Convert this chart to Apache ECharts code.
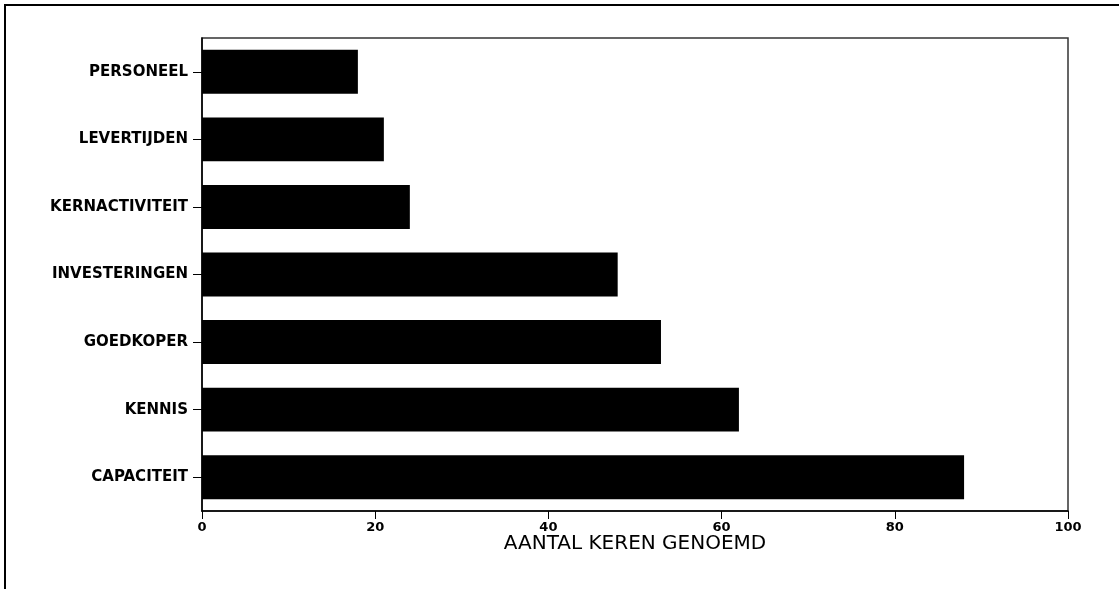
<!DOCTYPE html>
<html><head><meta charset="utf-8">
<script src="https://cdn.jsdelivr.net/npm/echarts@6/dist/echarts.min.js"></script>
<style>html,body{margin:0;padding:0;background:#fff}#c{width:1119px;height:589px}</style>
</head><body><div id="c"></div>
<script>
const categories = ["PERSONEEL","LEVERTIJDEN","KERNACTIVITEIT","INVESTERINGEN","GOEDKOPER","KENNIS","CAPACITEIT"];
const values = [18, 21, 24, 48, 53, 62, 88];
const xTicks = [0, 20, 40, 60, 80, 100];
const xTitle = "AANTAL KEREN GENOEMD";

const chart = echarts.init(document.getElementById('c'));
chart.setOption({
  animation: false,
  backgroundColor: '#fff',
  grid: {left: 202, right: 51, top: 38, bottom: 78, show: true, borderColor: '#333', borderWidth: 1.5, containLabel: false},
  graphic: [
    {type: 'line', shape: {x1: 4, y1: 5, x2: 1119, y2: 5}, style: {stroke: '#000', lineWidth: 2}},
    {type: 'line', shape: {x1: 5, y1: 4, x2: 5, y2: 589}, style: {stroke: '#000', lineWidth: 2}}
  ],
  xAxis: {
    type: 'value', min: xTicks[0], max: xTicks[xTicks.length-1], interval: 20,
    name: xTitle, nameLocation: 'middle', nameGap: 23, nameMoveOverlap: false,
    nameTextStyle: {fontFamily: 'DejaVu Sans', fontSize: 20, color: '#000'},
    axisLine: {show: true, lineStyle: {color: '#000', width: 1.5}},
    axisTick: {show: true, length: 8, lineStyle: {color: '#000'}},
    axisLabel: {fontFamily: 'DejaVu Sans', fontWeight: 'bold', fontSize: 13, color: '#000', margin: 10},
    splitLine: {show: false}
  },
  yAxis: {
    type: 'category', data: categories, inverse: true,
    axisLine: {show: true, lineStyle: {color: '#000', width: 1.5}},
    axisTick: {show: true, alignWithLabel: true, length: 9, lineStyle: {color: '#000'}},
    axisLabel: {fontFamily: 'DejaVu Sans', fontWeight: 'bold', fontSize: 15, color: '#000', margin: 14}
  },
  series: [{
    type: 'bar', data: values, barCategoryGap: '35%',
    itemStyle: {color: '#000'}
  }]
});
</script></body></html>
